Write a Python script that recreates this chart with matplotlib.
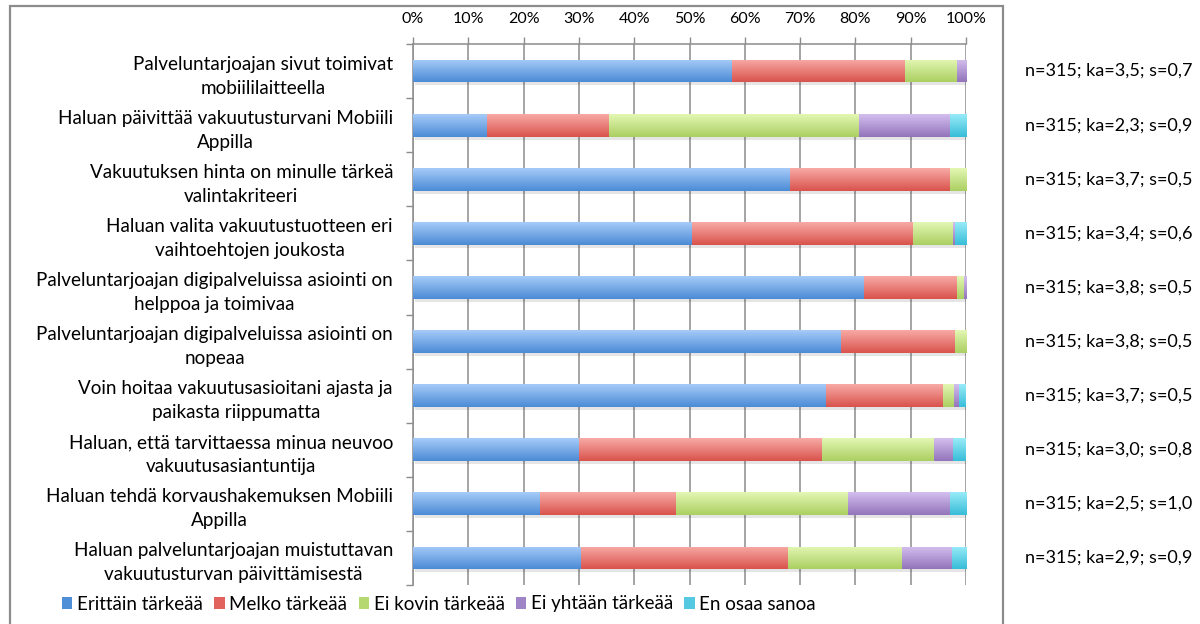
import numpy as np
import matplotlib
matplotlib.use("Agg")
import matplotlib.pyplot as plt
from matplotlib.colors import LinearSegmentedColormap
from matplotlib.patches import Patch, Rectangle
import matplotlib.transforms as mtransforms

plt.rcParams['font.family'] = ['Lato', 'DejaVu Sans']

categories = [
    "Palveluntarjoajan sivut toimivat\nmobiililaitteella",
    "Haluan päivittää vakuutusturvani Mobiili\nAppilla",
    "Vakuutuksen hinta on minulle tärkeä\nvalintakriteeri",
    "Haluan valita vakuutustuotteen eri\nvaihtoehtojen joukosta",
    "Palveluntarjoajan digipalveluissa asiointi on\nhelppoa ja toimivaa",
    "Palveluntarjoajan digipalveluissa asiointi on\nnopeaa",
    "Voin hoitaa vakuutusasioitani ajasta ja\npaikasta riippumatta",
    "Haluan, että tarvittaessa minua neuvoo\nvakuutusasiantuntija",
    "Haluan tehdä korvaushakemuksen Mobiili\nAppilla",
    "Haluan palveluntarjoajan muistuttavan\nvakuutusturvan päivittämisestä",
]

series_names = ["Erittäin tärkeää", "Melko tärkeää", "Ei kovin tärkeää",
                "Ei yhtään tärkeää", "En osaa sanoa"]

erittain = [57.7, 13.3, 68.2, 50.4, 81.6, 77.4, 74.6, 30.0, 23.0, 30.4]
melko    = [31.2, 22.2, 28.9, 40.0, 16.7, 20.6, 21.2, 44.0, 24.5, 37.5]
ei_kovin = [9.4, 45.1, 2.9, 7.3, 1.3, 2.0, 2.1, 20.2, 31.2, 20.6]
ei_yht   = [1.7, 16.5, 0.0, 0.3, 0.4, 0.0, 0.9, 3.5, 18.4, 8.9]
en_osaa  = [0.0, 2.9, 0.0, 2.0, 0.0, 0.0, 1.2, 2.3, 2.9, 2.6]

stats = [
    "n=315; ka=3,5; s=0,7",
    "n=315; ka=2,3; s=0,9",
    "n=315; ka=3,7; s=0,5",
    "n=315; ka=3,4; s=0,6",
    "n=315; ka=3,8; s=0,5",
    "n=315; ka=3,8; s=0,5",
    "n=315; ka=3,7; s=0,5",
    "n=315; ka=3,0; s=0,8",
    "n=315; ka=2,5; s=1,0",
    "n=315; ka=2,9; s=0,9",
]

xticks = [0, 10, 20, 30, 40, 50, 60, 70, 80, 90, 100]
xticklabels = [f"{t}%" for t in xticks]

# (top, bottom) gradient colours and flat legend colour per series
grad_colors = [
    ("#a6cbf8", "#4b8bd6"),
    ("#f8aaa6", "#d9534d"),
    ("#e3f7b3", "#abcf62"),
    ("#d3bfee", "#9374bb"),
    ("#98ebf8", "#38bdd8"),
]
legend_colors = ["#4f8fd8", "#e2635d", "#b6d870", "#a084c8", "#55c9e2"]

values = [erittain, melko, ei_kovin, ei_yht, en_osaa]

fig = plt.figure(figsize=(12, 6.24), dpi=100)
W, H = 1200, 624
ax = fig.add_axes([413 / W, 1 - 585 / H, (966 - 413) / W, (585 - 44) / H])

y = np.arange(len(categories))
bar_h = 0.42
left = np.zeros(len(categories))

shadow_tr = mtransforms.offset_copy(ax.transData, fig=fig, x=1.5, y=-3, units='dots')

for vals, (ctop, cbot) in zip(values, grad_colors):
    vals = np.asarray(vals, dtype=float)
    bars = ax.barh(y, vals, left=left, height=bar_h, color=cbot,
                   edgecolor='none', zorder=3)
    cmap = LinearSegmentedColormap.from_list("g", [ctop, cbot])
    grad = np.linspace(0, 1, 64).reshape(-1, 1)
    for rect in bars:
        w = rect.get_width()
        if w <= 0:
            continue
        x0 = rect.get_x()
        y0 = rect.get_y()
        h = rect.get_height()
        # soft drop shadow beneath the bar
        ax.add_patch(Rectangle((x0, y0), w, h, transform=shadow_tr,
                               facecolor='#000000', alpha=0.10,
                               edgecolor='none', zorder=2))
        im = ax.imshow(grad, extent=(x0, x0 + w, y0 + h, y0), origin='upper',
                       aspect='auto', cmap=cmap, vmin=0, vmax=1, zorder=4,
                       interpolation='bilinear')
        im.set_clip_path(rect)
    left = left + vals

ax.set_xlim(0, 100)
ax.set_ylim(len(categories) - 0.5, -0.5)

# x axis on top
ax.xaxis.tick_top()
ax.set_xticks(xticks)
ax.set_xticklabels(xticklabels, fontsize=11.5, color='#000000')
ax.tick_params(axis='x', direction='out', length=5, width=1, color='#8c8c8c', pad=8)
ax.grid(axis='x', color='#8c8c8c', linewidth=1.1, zorder=0)
ax.set_axisbelow(True)

# y axis: category labels (centred lines, right edge near the axis), ticks at boundaries
ax.set_yticks(y)
ax.set_yticklabels([])
ax.tick_params(axis='y', which='major', length=0)
ax.set_yticks(np.arange(-0.5, len(categories) + 0.5, 1), minor=True)
ax.tick_params(axis='y', which='minor', direction='out', length=5,
               width=1, color='#8c8c8c')

label_tr = mtransforms.offset_copy(ax.get_yaxis_transform(), fig=fig,
                                   x=-20, y=-5, units='dots')
for yi, txt in zip(y, categories):
    ax.text(0, yi, txt, transform=label_tr, fontsize=13.6, color='#000000',
            ha='right', va='center', multialignment='center',
            linespacing=1.5, clip_on=False)

for s in ['right', 'bottom']:
    ax.spines[s].set_visible(False)
for s in ['left', 'top']:
    ax.spines[s].set_color('#8c8c8c')
    ax.spines[s].set_linewidth(1.1)

# statistics beside each bar
for yi, txt in zip(y, stats):
    ax.text(1025, yi, txt, transform=mtransforms.blended_transform_factory(
        mtransforms.IdentityTransform(), ax.transData),
        fontsize=13, va='center', ha='left', color='#000000')

# legend
handles = [Patch(facecolor=c, edgecolor='none') for c in legend_colors]
fig.legend(handles, series_names, loc='center', ncol=5,
           bbox_to_anchor=(439 / W, 1 - 604 / H), frameon=False,
           fontsize=13.5, handlelength=0.55, handleheight=0.55,
           handletextpad=0.25, columnspacing=0.6, borderaxespad=0)

# outer chart frame
fig.add_artist(Rectangle((10 / W, -0.05), (1003 - 10) / W, 1.05 - 6 / H,
                         transform=fig.transFigure, facecolor='none',
                         edgecolor='#8c8c8c', linewidth=1.6))

fig.savefig("out.png", dpi=100)
